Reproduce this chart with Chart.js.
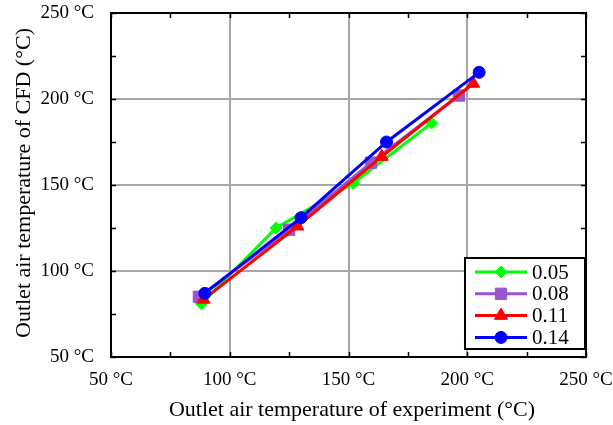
<!DOCTYPE html>
<html>
<head>
<meta charset="utf-8">
<script src="https://cdn.jsdelivr.net/npm/chart.js"></script>
<style>
  body { margin: 0; background: #fff; }
  #wrap { width: 613px; height: 425px; }
</style>
</head>
<body>
<div id="wrap"><canvas id="cfd-chart" width="613" height="425"></canvas></div>
<script>
// Values
const seriesLabels = ['0.05', '0.08', '0.11', '0.14'];
const expTemp005 = [88, 119.5, 152, 185];
const cfdTemp005 = [81, 125, 151, 186];
const expTemp008 = [87, 125, 159.5, 196.5];
const cfdTemp008 = [85, 124, 163, 202];
const expTemp011 = [89, 128.5, 164, 202.5];
const cfdTemp011 = [83.5, 126, 166.5, 209];
const expTemp014 = [89.5, 130, 166, 205];
const cfdTemp014 = [87, 131, 175, 215.5];
const tickValues = [50, 100, 150, 200, 250];
const minorTickValues = [50, 75, 100, 125, 150, 175, 200, 225, 250];

const serif = 'Liberation Serif';

// pair up x and y arrays for the scatter datasets
function toPoints(xs, ys) {
  return xs.map((x, i) => ({ x: x, y: ys[i] }));
}

function makeSeries(label, xs, ys, color, style, radius, order) {
  return {
    label: label,
    data: toPoints(xs, ys),
    showLine: true,
    borderColor: color,
    backgroundColor: color,
    borderWidth: 3,
    pointStyle: style,
    pointRadius: radius,
    pointHoverRadius: radius,
    pointBorderWidth: 1,
    order: order,
  };
}

// frame, inward ticks, axis titles and the boxed legend
const framePlugin = {
  id: 'frame',
  beforeDatasetsDraw(chart) {
    const { ctx, chartArea: a, scales } = chart;
    ctx.save();
    ctx.strokeStyle = '#000';
    ctx.lineWidth = 1.5;
    minorTickValues.forEach((v) => {
      const px = Math.round(scales.x.getPixelForValue(v)) + 0.5;
      const py = Math.round(scales.y.getPixelForValue(v)) + 0.5;
      ctx.beginPath();
      ctx.moveTo(px, a.bottom); ctx.lineTo(px, a.bottom - 5);
      ctx.moveTo(px, a.top); ctx.lineTo(px, a.top + 5);
      ctx.moveTo(a.left, py); ctx.lineTo(a.left + 5, py);
      ctx.moveTo(a.right, py); ctx.lineTo(a.right - 5, py);
      ctx.stroke();
    });
    ctx.lineWidth = 2;
    ctx.strokeRect(a.left, a.top, a.right - a.left, a.bottom - a.top);
    ctx.restore();
  },
  afterDraw(chart) {
    const { ctx, chartArea: a } = chart;
    ctx.save();
    ctx.fillStyle = '#000';
    ctx.font = '22px "' + serif + '"';
    ctx.textAlign = 'center';
    ctx.textBaseline = 'middle';
    ctx.fillText('Outlet air temperature of experiment (°C)', 352, 410);
    ctx.translate(24, 183);
    ctx.rotate(-Math.PI / 2);
    ctx.fillText('Outlet air temperature of CFD (°C)', 0, 0);
    ctx.restore();

    // legend box in the lower right corner
    const boxL = 465, boxT = 258, boxW = 120, boxH = 91;
    ctx.save();
    ctx.fillStyle = '#fff';
    ctx.fillRect(boxL, boxT, boxW, boxH);
    ctx.strokeStyle = '#000';
    ctx.lineWidth = 2;
    ctx.strokeRect(boxL, boxT, boxW, boxH);
    ctx.font = '21px "' + serif + '"';
    ctx.textAlign = 'left';
    ctx.textBaseline = 'middle';
    chart.data.datasets.forEach((ds, i) => {
      const y = boxT + 14 + i * 21.8;
      ctx.strokeStyle = ds.borderColor;
      ctx.lineWidth = 3;
      ctx.beginPath();
      ctx.moveTo(475, y);
      ctx.lineTo(527, y);
      ctx.stroke();
      ctx.fillStyle = ds.backgroundColor;
      ctx.strokeStyle = ds.borderColor;
      ctx.lineWidth = 1;
      Chart.helpers.drawPoint(ctx, { pointStyle: ds.pointStyle, radius: ds.pointRadius, rotation: 0, borderWidth: 1 }, 501, y);
      ctx.fillStyle = '#000';
      ctx.fillText(ds.label, 532, y + 1);
    });
    ctx.restore();
  },
};

const axisFont = { family: serif, size: 19 };

function gridColor(c) {
  return c.tick && c.tick.value % 50 === 0 ? '#a6a6a6' : 'rgba(0,0,0,0)';
}

new Chart(document.getElementById('cfd-chart').getContext('2d'), {
  type: 'scatter',
  data: {
    datasets: [
      makeSeries(seriesLabels[0], expTemp005, cfdTemp005, '#00ff00', 'rectRot', 6, 4),
      makeSeries(seriesLabels[1], expTemp008, cfdTemp008, '#9955cc', 'rect', 8, 3),
      makeSeries(seriesLabels[2], expTemp011, cfdTemp011, '#ff0000', 'triangle', 7.5, 2),
      makeSeries(seriesLabels[3], expTemp014, cfdTemp014, '#0000ff', 'circle', 6, 1),
    ],
  },
  options: {
    responsive: false,
    animation: false,
    layout: { padding: { top: 13, right: 27, left: 0, bottom: 0 } },
    plugins: {
      legend: { display: false },
      tooltip: { enabled: false },
    },
    scales: {
      x: {
        type: 'linear',
        min: 50,
        max: 250,
        afterBuildTicks: (s) => { s.ticks = minorTickValues.map((v) => ({ value: v })); },
        ticks: {
          autoSkip: false,
          maxRotation: 0,
          padding: 12,
          color: '#000',
          font: axisFont,
          callback: (v) => (tickValues.includes(v) ? v + ' °C' : ''),
        },
        grid: { color: gridColor, lineWidth: 2, drawTicks: false },
        border: { display: false },
        afterFit: (s) => { s.height = 68; s.paddingLeft = 0; s.paddingRight = 0; },
      },
      y: {
        type: 'linear',
        min: 50,
        max: 250,
        afterBuildTicks: (s) => { s.ticks = minorTickValues.map((v) => ({ value: v })); },
        ticks: {
          autoSkip: false,
          padding: 17,
          color: '#000',
          font: axisFont,
          callback: (v) => (tickValues.includes(v) ? v + ' °C' : ''),
        },
        grid: { color: gridColor, lineWidth: 2, drawTicks: false },
        border: { display: false },
        afterFit: (s) => { s.width = 111; s.paddingTop = 0; s.paddingBottom = 0; },
      },
    },
  },
  plugins: [framePlugin],
});
</script>
</body>
</html>
